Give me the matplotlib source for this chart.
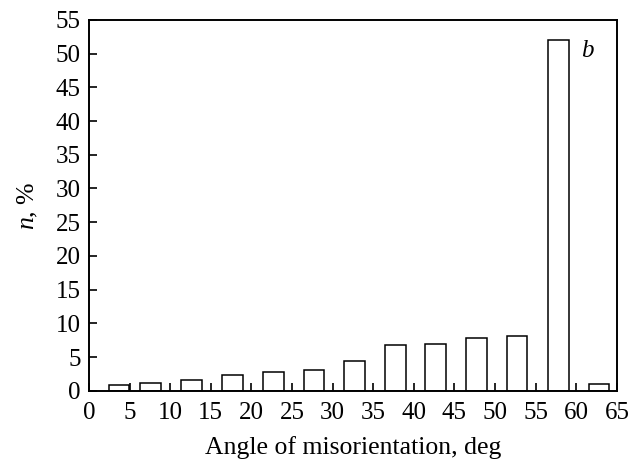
import matplotlib.pyplot as plt

plt.rcParams['font.family'] = ['Liberation Serif', 'DejaVu Serif']
plt.rcParams['mathtext.fontset'] = 'custom'
plt.rcParams['mathtext.it'] = 'Liberation Serif:italic'
plt.rcParams['mathtext.rm'] = 'Liberation Serif'

# bar centres (deg) and shares (%)
centers = [3.7, 7.6, 12.6, 17.7, 22.7, 27.7, 32.7, 37.7, 42.7, 47.7, 52.7, 57.8, 62.8]
shares = [0.8, 1.2, 1.6, 2.3, 2.8, 3.1, 4.4, 6.8, 7.0, 7.9, 8.1, 52.0, 1.0]
xticks = list(range(0, 70, 5))
yticks = list(range(0, 60, 5))

fig = plt.figure(figsize=(6.4, 4.62), dpi=100)
ax = fig.add_axes([0.139, 0.154, 0.825, 0.803])

ax.bar(centers, shares, width=2.55, facecolor='white', edgecolor='black', linewidth=1.1)

ax.set_xlim(0, 65)
ax.set_ylim(0, 55)
ax.set_xticks(xticks)
ax.set_yticks(yticks)
ax.tick_params(direction='in', length=6, width=1.2, labelsize=18,
               top=False, right=False)
ax.tick_params(axis='x', pad=8)
ax.tick_params(axis='y', pad=6)
for s in ax.spines.values():
    s.set_linewidth(1.4)

ax.set_xlabel('Angle of misorientation, deg', fontsize=18.5, labelpad=9)
ax.set_ylabel(r'$n$, %', fontsize=18.5, labelpad=11)
ax.text(61.4, 50.4, 'b', fontsize=18, style='italic', ha='center', va='center')

fig.savefig('out.png', dpi=100)
